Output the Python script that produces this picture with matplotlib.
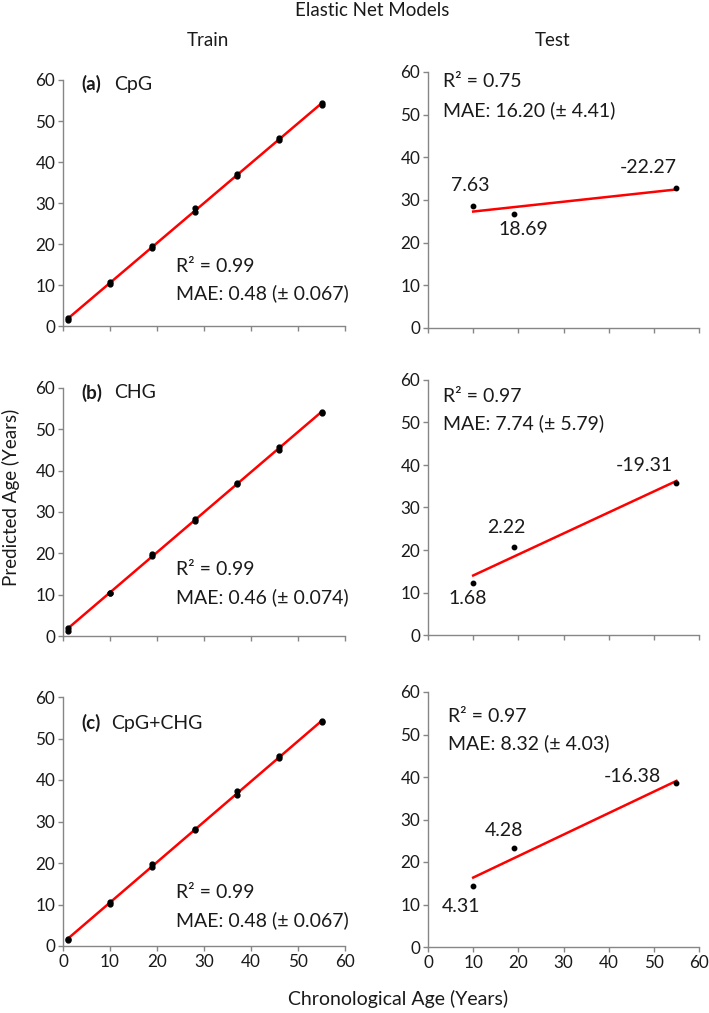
import numpy as np
import matplotlib
matplotlib.use("Agg")
import matplotlib.pyplot as plt

plt.rcParams['font.family'] = ['Lato', 'DejaVu Sans']

# ---------------- data ----------------
train_age = [1, 1, 10, 10, 19, 19, 28, 28, 37, 37, 46, 46, 55, 55]
train_pred_a = [1.4, 2.0, 10.2, 10.7, 19.1, 19.4, 27.9, 28.7, 36.7, 37.0, 45.3, 45.8, 54.0, 54.3]
train_pred_b = [1.3, 2.0, 10.3, 10.5, 19.3, 19.9, 27.8, 28.2, 36.7, 37.0, 45.1, 45.8, 53.9, 54.3]
train_pred_c = [1.5, 1.8, 10.2, 10.5, 19.0, 19.7, 27.9, 28.3, 36.4, 37.3, 45.2, 45.8, 53.9, 54.2]

test_age = [10, 19, 55]
test_pred_a = [28.6, 26.7, 32.8]
test_pred_b = [12.2, 20.7, 35.8]
test_pred_c = [14.4, 23.3, 38.6]

test_labels_a = ["7.63", "18.69", "-22.27"]
test_labels_b = ["1.68", "2.22", "-19.31"]
test_labels_c = ["4.31", "4.28", "-16.38"]

panel_tags = ["(a)", "(b)", "(c)"]
panel_names = ["CpG", "CHG", "CpG+CHG"]
train_r2 = ["0.99", "0.99", "0.99"]
train_mae = ["0.48 (± 0.067)", "0.46 (± 0.074)", "0.48 (± 0.067)"]
test_r2 = ["0.75", "0.97", "0.97"]
test_mae = ["16.20 (± 4.41)", "7.74 (± 5.79)", "8.32 (± 4.03)"]

ticks = [0, 10, 20, 30, 40, 50, 60]

# ---------------- layout ----------------
W, H = 709, 1013
fig = plt.figure(figsize=(W / 100, H / 100), dpi=100)

def box(l, r, t, b):
    return [l / W, 1 - b / H, (r - l) / W, (b - t) / H]

left_boxes = [box(63, 345, 80, 326), box(63, 345, 388, 636), box(63, 345, 697, 946)]
right_boxes = [box(428, 699, 72, 328), box(428, 699, 380, 635), box(428, 699, 692, 947)]

# label positions (data coords) for the test panels
test_lab_pos = [
    [(9.3, 33.5), (21.0, 23.2), (48.7, 37.5)],
    [(8.9, 8.7), (17.3, 25.2), (48.0, 40.0)],
    [(7.3, 9.6), (16.8, 27.5), (45.2, 40.2)],
]
test_txt_pos = [(3.3, 57.7, 51.0), (3.3, 56.2, 49.9), (4.4, 54.3, 48.0)]
train_tag_y = [59.0, 58.8, 53.7]
train_name_x = [10.8, 10.8, 10.2]
train_txt_pos = [(24.0, 14.4, 8.0), (24.0, 16.0, 9.4), (24.0, 12.8, 6.3)]

spine_col = "#868686"
txt_col = "#1a1a1a"

def style(ax, show_x):
    ax.set_xlim(0, 60)
    ax.set_ylim(0, 60)
    ax.set_xticks(ticks)
    ax.set_yticks(ticks)
    for s in ["top", "right"]:
        ax.spines[s].set_visible(False)
    for s in ["left", "bottom"]:
        ax.spines[s].set_color(spine_col)
        ax.spines[s].set_linewidth(1.0)
    ax.tick_params(axis="both", colors=spine_col, labelcolor=txt_col,
                   labelsize=12.3, length=3.5, width=1.0, pad=2)
    if not show_x:
        ax.set_xticklabels([])
    ax.patch.set_alpha(0)

train_preds = [train_pred_a, train_pred_b, train_pred_c]
test_preds = [test_pred_a, test_pred_b, test_pred_c]
test_labels = [test_labels_a, test_labels_b, test_labels_c]

fs = 14
for i in range(3):
    # train
    ax = fig.add_axes(left_boxes[i])
    style(ax, i == 2)
    x = np.array(train_age, float)
    y = np.array(train_preds[i], float)
    k, b0 = np.polyfit(x, y, 1)
    xs = np.array([x.min(), x.max()])
    ax.plot(xs, k * xs + b0, color="#ff0000", lw=1.8, zorder=2)
    ax.plot(x, y, "o", color="black", ms=3.5, zorder=3)
    ax.text(4.0, train_tag_y[i], panel_tags[i], fontweight="bold", fontsize=fs - 0.5,
            color=txt_col, va="center", ha="left")
    ax.text(train_name_x[i], train_tag_y[i], panel_names[i], fontsize=fs,
            color=txt_col, va="center", ha="left")
    tx, ty1, ty2 = train_txt_pos[i]
    ax.text(tx, ty1, "R² = " + train_r2[i], fontsize=fs, color=txt_col, va="center", ha="left")
    ax.text(tx, ty2, "MAE: " + train_mae[i], fontsize=fs, color=txt_col, va="center", ha="left")

    # test
    ax = fig.add_axes(right_boxes[i])
    style(ax, i == 2)
    x = np.array(test_age, float)
    y = np.array(test_preds[i], float)
    k, b0 = np.polyfit(x, y, 1)
    xs = np.array([x.min(), x.max()])
    ax.plot(xs, k * xs + b0, color="#ff0000", lw=1.8, zorder=2)
    ax.plot(x, y, "o", color="black", ms=3.2, zorder=3)
    for lab, (lx, ly) in zip(test_labels[i], test_lab_pos[i]):
        ax.text(lx, ly, lab, fontsize=fs, color=txt_col, va="center", ha="center")
    tx, ty1, ty2 = test_txt_pos[i]
    ax.text(tx, ty1, "R² = " + test_r2[i], fontsize=fs, color=txt_col, va="center", ha="left")
    ax.text(tx, ty2, "MAE: " + test_mae[i], fontsize=fs, color=txt_col, va="center", ha="left")

fig.text(372 / W, 1 - 10 / H, "Elastic Net Models", fontsize=13.5, color=txt_col, ha="center", va="center")
fig.text(208 / W, 1 - 41 / H, "Train", fontsize=13.5, color=txt_col, ha="center", va="center")
fig.text(553 / W, 1 - 41 / H, "Test", fontsize=13.5, color=txt_col, ha="center", va="center")
fig.text(398 / W, 1 - 999 / H, "Chronological Age (Years)", fontsize=14, color=txt_col, ha="center", va="center")
fig.text(11 / W, 1 - 497 / H, "Predicted Age (Years)", fontsize=13.5, color=txt_col, ha="center", va="center", rotation=90)

fig.savefig("out.png", dpi=100, facecolor="white")
